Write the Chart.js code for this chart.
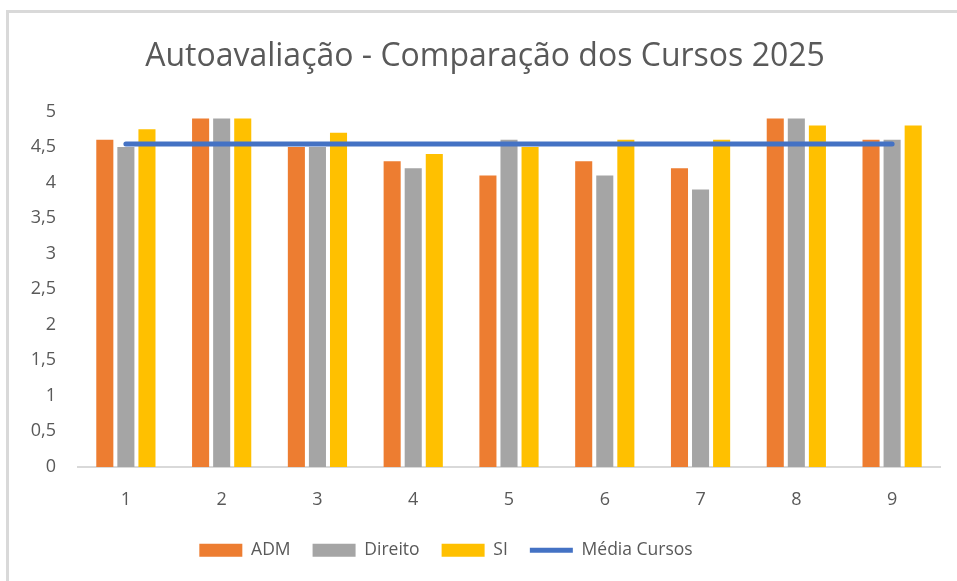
<!DOCTYPE html>
<html>
<head>
<meta charset="utf-8">
<script src="https://cdn.jsdelivr.net/npm/chart.js@4.4.1/dist/chart.umd.min.js"></script>
<style>
  html, body { margin: 0; padding: 0; background: #fff; }
  #wrap { position: relative; width: 957px; height: 581px; }
  #frame {
    position: absolute; left: 6px; top: 10px; right: 0; bottom: 0;
    border-left: 3px solid #d9d9d9; border-top: 3px solid #d9d9d9;
    pointer-events: none;
  }
  canvas { position: absolute; left: 0; top: 0; }
</style>
</head>
<body>
<div id="wrap">
  <canvas id="chart" width="957" height="581"></canvas>
  <div id="frame"></div>
</div>
<script>
// Données
const categories = ['1', '2', '3', '4', '5', '6', '7', '8', '9'];
const adm = [4.6, 4.9, 4.5, 4.3, 4.1, 4.3, 4.2, 4.9, 4.6];
const direito = [4.5, 4.9, 4.5, 4.2, 4.6, 4.1, 3.9, 4.9, 4.6];
const si = [4.75, 4.9, 4.7, 4.4, 4.5, 4.6, 4.6, 4.8, 4.8];
const mediaCursos = [4.54, 4.54, 4.54, 4.54, 4.54, 4.54, 4.54, 4.54, 4.54];
const yTicks = [0, 0.5, 1, 1.5, 2, 2.5, 3, 3.5, 4, 4.5, 5];

const fontFamily = "'Open Sans', sans-serif";
const textColor = '#595959';

const barOpts = {
    categoryPercentage: 0.66,
    barPercentage: 0.81,
    order: 1
};

// Décalage du titre et de la légende comme dans Excel
const shiftBoxes = {
    id: 'shiftBoxes',
    afterLayout(chart) {
        chart.titleBlock.left += 5;
        chart.titleBlock.right += 5;
        chart.legend.left -= 34;
        chart.legend.right -= 34;
        chart.legend.top -= 5;
        chart.legend.bottom -= 5;
    }
};

const ctx = document.getElementById('chart').getContext('2d');

const chart = new Chart(ctx, {
    type: 'bar',
    data: {
        labels: categories,
        datasets: [
            { label: 'ADM', data: adm, backgroundColor: '#ed7d31', ...barOpts },
            { label: 'Direito', data: direito, backgroundColor: '#a5a5a5', ...barOpts },
            { label: 'SI', data: si, backgroundColor: '#ffc000', ...barOpts },
            {
                type: 'line',
                label: 'Média Cursos',
                data: mediaCursos,
                borderColor: '#4472c4',
                backgroundColor: '#4472c4',
                borderWidth: 5,
                borderCapStyle: 'round',
                pointRadius: 0,
                fill: false,
                order: 0
            }
        ]
    },
    plugins: [shiftBoxes],
    options: {
        responsive: false,
        animation: false,
        layout: {
            padding: { left: 20, right: 17, top: 0, bottom: 7 }
        },
        plugins: {
            title: {
                display: true,
                text: 'Autoavaliação - Comparação dos Cursos 2025',
                color: textColor,
                font: { family: fontFamily, size: 32, weight: 'normal' },
                padding: { top: 38, bottom: 35 }
            },
            legend: {
                position: 'bottom',
                labels: {
                    color: textColor,
                    font: { family: fontFamily, size: 17.5 },
                    usePointStyle: true,
                    pointStyleWidth: 43,
                    boxHeight: 13,
                    padding: 22,
                    sort: (a, b) => a.datasetIndex - b.datasetIndex,
                    generateLabels: function(chart) {
                        const items = Chart.defaults.plugins.legend.labels.generateLabels(chart);
                        items.forEach(item => {
                            const ds = chart.data.datasets[item.datasetIndex];
                            if (ds.type === 'line') {
                                item.pointStyle = 'line';
                                item.lineWidth = 5;
                                item.strokeStyle = '#4472c4';
                            } else {
                                item.pointStyle = 'rect';
                                item.lineWidth = 0;
                            }
                        });
                        return items;
                    }
                }
            },
            tooltip: { enabled: false }
        },
        scales: {
            x: {
                grid: { display: false },
                border: { color: '#d9d9d9', width: 2 },
                ticks: {
                    color: textColor,
                    font: { family: fontFamily, size: 18 },
                    padding: 14
                }
            },
            y: {
                min: 0,
                max: 5,
                grid: { display: false, drawTicks: false },
                border: { display: false },
                afterBuildTicks: function(axis) {
                    axis.ticks = yTicks.map(v => ({ value: v }));
                },
                afterFit: function(axis) {
                    axis.width = 58;
                },
                ticks: {
                    color: textColor,
                    font: { family: fontFamily, size: 18 },
                    padding: 22,
                    callback: function(value) {
                        return String(value).replace('.', ',');
                    }
                }
            }
        }
    }
});
</script>
</body>
</html>
